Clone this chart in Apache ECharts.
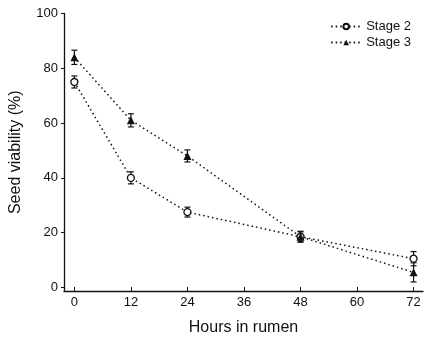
<!DOCTYPE html>
<html><head><meta charset="utf-8">
<script src="https://cdn.jsdelivr.net/npm/echarts@6/dist/echarts.min.js"></script>
<style>html,body{margin:0;padding:0;background:#fff}#c{width:428px;height:337px}</style>
</head><body><div id="c"></div>
<script>
var hours = [0, 12, 24, 48, 72];
var stage2 = [75, 40, 27.5, 18.5, 10.5];
var stage2Err = [2.2, 2.2, 1.8, 1.8, 2.6];
var stage3 = [84, 61, 48, 18.5, 5.5];
var stage3Err = [2.6, 2.4, 2.2, 2.0, 3.5];
var xTicks = [0, 12, 24, 36, 48, 60, 72];
var yTicks = [0, 20, 40, 60, 80, 100];

function pairs(v) { return hours.map(function (h, i) { return [h, v[i]]; }); }
function errData(v, e) { return hours.map(function (h, i) { return [h, v[i] - e[i], v[i] + e[i]]; }); }
function errSeries(v, e) {
  return {
    type: 'custom', silent: true, z: 3,
    renderItem: function (params, api) {
      var x = api.value(0);
      var lo = api.coord([x, api.value(1)]);
      var hi = api.coord([x, api.value(2)]);
      var w = 3;
      var st = { stroke: '#111', lineWidth: 1.2 };
      return { type: 'group', children: [
        { type: 'line', shape: { x1: lo[0], y1: lo[1], x2: hi[0], y2: hi[1] }, style: st },
        { type: 'line', shape: { x1: lo[0] - w, y1: lo[1], x2: lo[0] + w, y2: lo[1] }, style: st },
        { type: 'line', shape: { x1: hi[0] - w, y1: hi[1], x2: hi[0] + w, y2: hi[1] }, style: st }
      ]};
    },
    data: errData(v, e)
  };
}
var font = 'Liberation Sans, Arial, sans-serif';
var chart = echarts.init(document.getElementById('c'));
chart.setOption({
  animation: false,
  textStyle: { fontFamily: font },
  grid: { left: 64, right: 5, top: 13.5, bottom: 46, containLabel: false, outerBoundsMode: 'none' },
  legend: {
    right: 12, top: 15, orient: 'vertical', itemGap: 3, itemWidth: 30, itemHeight: 7,
    textStyle: { fontSize: 13, color: '#111', fontFamily: font },
    data: ['Stage 2', 'Stage 3']
  },
  xAxis: {
    type: 'value', min: -2.2, max: 74,
    name: 'Hours in rumen', nameLocation: 'middle', nameGap: 29,
    nameTextStyle: { fontSize: 16, color: '#111', fontFamily: font },
    axisLine: { show: true, onZero: false, lineStyle: { color: '#111', width: 1.3 } },
    axisTick: { show: true, inside: true, length: 4, customValues: xTicks, lineStyle: { color: '#111' } },
    axisLabel: { customValues: xTicks, fontSize: 13, color: '#111', margin: 5 },
    splitLine: { show: false }
  },
  yAxis: {
    type: 'value', min: -1.3, max: 100,
    name: 'Seed viability (%)', nameLocation: 'middle', nameGap: 40,
    nameTextStyle: { fontSize: 16, color: '#111', fontFamily: font },
    axisLine: { show: true, onZero: false, lineStyle: { color: '#111', width: 1.3 } },
    axisTick: { show: true, length: 3, customValues: yTicks, lineStyle: { color: '#111' } },
    axisLabel: { customValues: yTicks, fontSize: 13, color: '#111', margin: 6 },
    splitLine: { show: false }
  },
  series: [
    errSeries(stage2, stage2Err),
    errSeries(stage3, stage3Err),
    {
      name: 'Stage 2', type: 'line', data: pairs(stage2), z: 4,
      symbol: 'circle', symbolSize: 7,
      itemStyle: { color: '#fff', borderColor: '#111', borderWidth: 1.3 },
      lineStyle: { color: '#111', width: 1.5, type: [1.5, 3] }
    },
    {
      name: 'Stage 3', type: 'line', data: pairs(stage3), z: 4,
      symbol: 'triangle', symbolSize: 8,
      itemStyle: { color: '#111', borderColor: '#111', borderWidth: 0 },
      lineStyle: { color: '#111', width: 1.5, type: [1.5, 3] }
    }
  ]
});
</script></body></html>
